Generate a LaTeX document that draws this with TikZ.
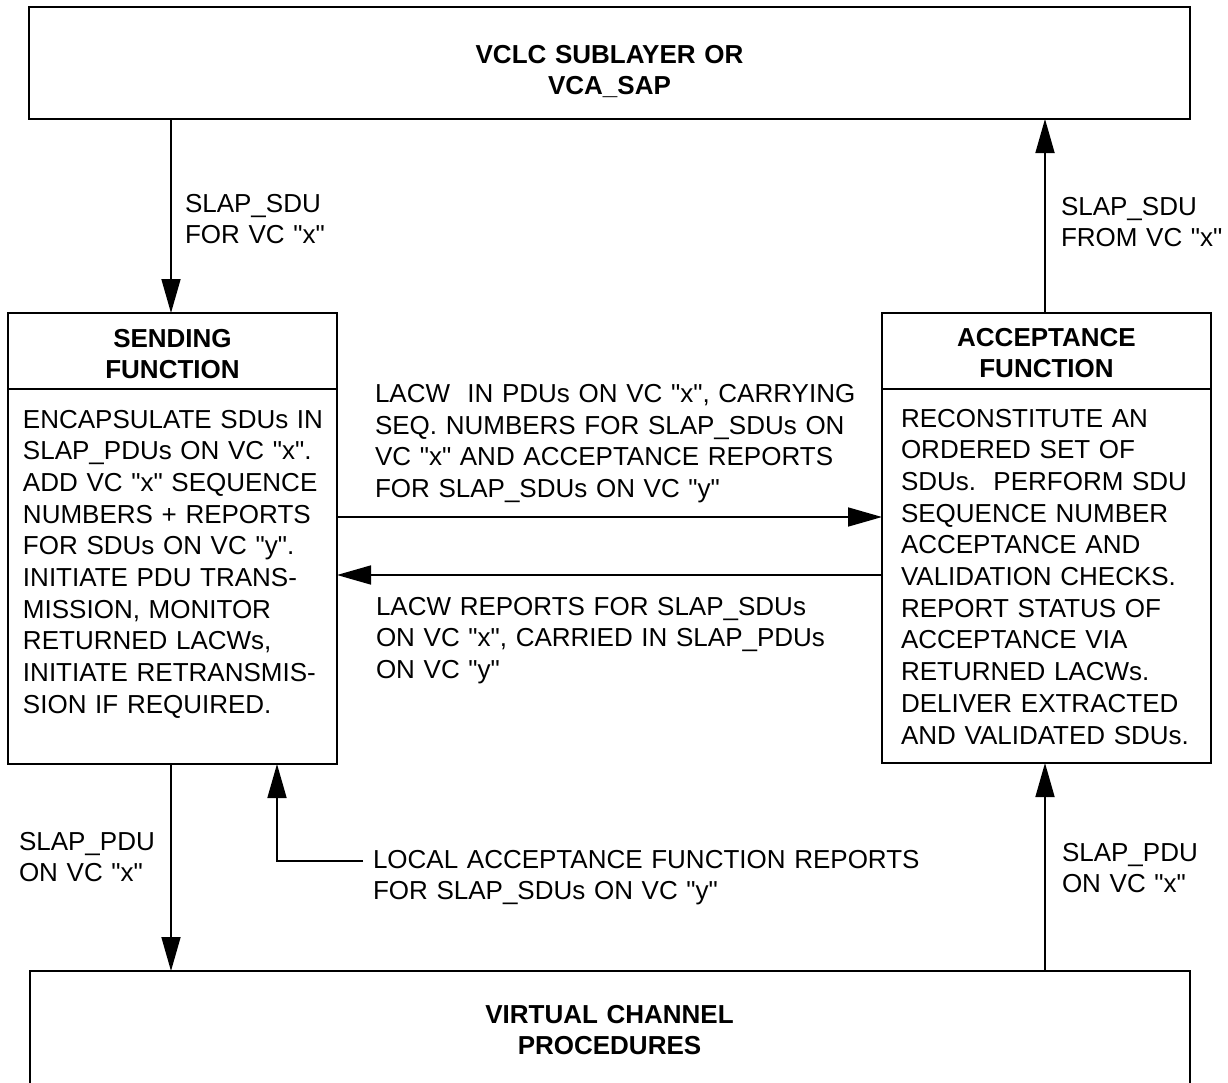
\documentclass[tikz,border=0pt]{standalone}
\usepackage{fontspec}
\setmainfont{Liberation Sans}[Ligatures=TeXOff]
\usetikzlibrary{arrows.meta}
\begin{document}
\begin{tikzpicture}[x=1pt,y=-1pt,
  txt/.style={font=\fontsize{26}{31.7}\selectfont, inner sep=0pt, outer sep=0pt},
  lbl/.style={txt, anchor=base west, align=left, text width=#1},
  lbl/.default=330pt,
  hdr/.style={txt, font=\fontsize{26}{31.7}\selectfont\bfseries, anchor=base, align=center, text width=#1},
  hdr/.default=320pt,
  boxframe/.style={draw, line width=2.3pt, rectangle, inner sep=0pt, outer sep=0pt, anchor=north west},
  arr/.style={line width=1.7pt, -{Triangle[length=34pt,width=19pt]}}
]
\useasboundingbox (0,0) rectangle (1228,1082);

% upper layer
\node[boxframe, minimum width=1161pt, minimum height=112pt] (top) at (29,7) {};
\node[hdr=600pt] (toptxt) at (609.5,63) {VCLC SUBLAYER OR\\VCA\_SAP};

% sending function
\node[boxframe, minimum width=329pt, minimum height=451pt] (send) at (8,313) {};
\draw[line width=2.3pt] (send.west |- 0,389) coordinate (sdl) -- (send.east |- 0,389) coordinate (sdr);
\node[hdr] (sendhdr) at (172.5,347) {SENDING\\FUNCTION};
\node[lbl=320pt] (sendbody) at (23,428) {ENCAPSULATE SDUs IN\\SLAP\_PDUs ON VC "x".\\ADD VC "x" SEQUENCE\\NUMBERS + REPORTS\\FOR SDUs ON VC "y".\\INITIATE PDU TRANS-\\MISSION, MONITOR\\RETURNED LACWs,\\INITIATE RETRANSMIS-\\SION IF REQUIRED.};

% acceptance function
\node[boxframe, minimum width=329pt, minimum height=450pt] (acc) at (882,313) {};
\draw[line width=2.3pt] (acc.west |- 0,389) coordinate (adl) -- (acc.east |- 0,389) coordinate (adr);
\node[hdr] (acchdr) at (1046.5,346) {ACCEPTANCE\\FUNCTION};
\node[lbl=320pt] (accbody) at (901,427) {RECONSTITUTE AN\\ORDERED SET OF\\SDUs.\ \ PERFORM SDU\\SEQUENCE NUMBER\\ACCEPTANCE AND\\VALIDATION CHECKS.\\REPORT STATUS OF\\ACCEPTANCE VIA\\RETURNED LACWs.\\DELIVER EXTRACTED\\AND VALIDATED SDUs.};

% lower layer (open towards the bottom edge)
\coordinate (botl) at (30,971);
\coordinate (botr) at (1190,971);
\draw[line width=2.3pt] (botl |- 0,1100) -- (botl) -- (botr) -- (botr |- 0,1100);
\node[hdr=600pt] (bottxt) at (609.5,1023) {VIRTUAL CHANNEL\\PROCEDURES};

% connector columns and rows
\coordinate (xl) at (171,0);
\coordinate (xr) at (1045,0);
\coordinate (xm) at (277,0);
\coordinate (yh) at (0,517);
\coordinate (yr) at (0,575);
\coordinate (loc) at (363,861);

% vertical flows
\draw[arr] (top.south -| xl) -- (send.north -| xl);
\node[lbl] (l1) at (185,212) {SLAP\_SDU\\FOR VC "x"};

\draw[arr] (acc.north -| xr) -- (top.south -| xr);
\node[lbl] (l2) at (1061,215) {SLAP\_SDU\\FROM VC "x"};

\draw[arr] (send.south -| xl) -- (botl -| xl);
\node[lbl] (l5) at (19,850) {SLAP\_PDU\\ON VC "x"};

\draw[arr] (botl -| xr) -- (acc.south -| xr);
\node[lbl] (l6) at (1062,861) {SLAP\_PDU\\ON VC "x"};

% horizontal flows
\draw[arr] (send.east |- yh) -- (acc.west |- yh);
\node[lbl=520pt] (l3) at (375,402.5) {LACW\ \ IN PDUs ON VC "x", CARRYING\\SEQ. NUMBERS FOR SLAP\_SDUs ON\\VC "x" AND ACCEPTANCE REPORTS\\FOR SLAP\_SDUs ON VC "y"};

\draw[arr] (acc.west |- yr) -- (send.east |- yr);
\node[lbl=520pt] (l4) at (376,615) {LACW REPORTS FOR SLAP\_SDUs\\ON VC "x", CARRIED IN SLAP\_PDUs\\ON VC "y"};

% local acceptance reports
\draw[arr] (loc) -- (loc -| xm) -- (send.south -| xm);
\node[lbl=600pt] (l7) at (373,868) {LOCAL ACCEPTANCE FUNCTION REPORTS\\FOR SLAP\_SDUs ON VC "y"};
\end{tikzpicture}
\end{document}
